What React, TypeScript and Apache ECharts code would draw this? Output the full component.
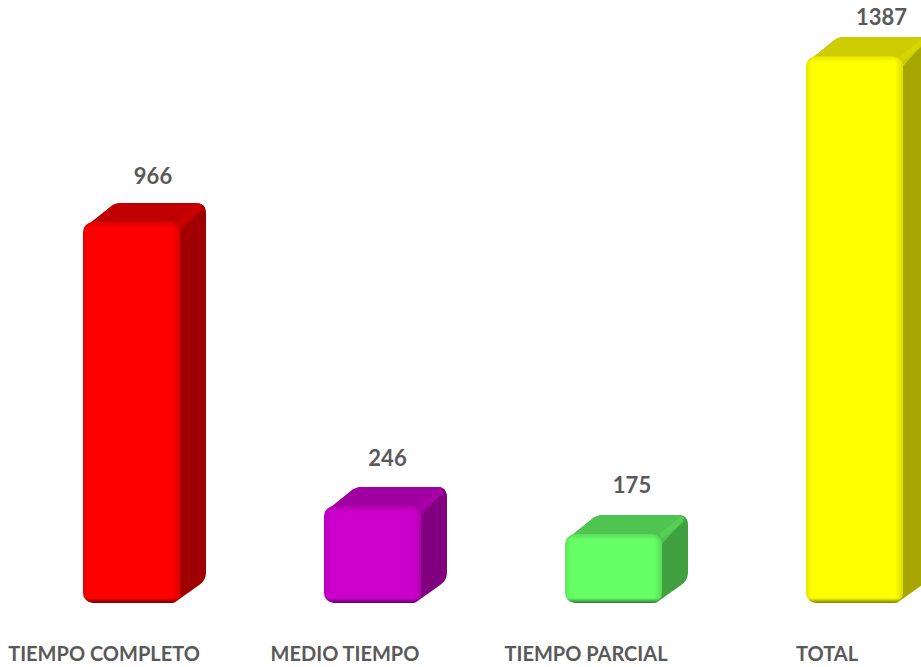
import React, { useEffect, useRef } from "react";
import * as echarts from "echarts";

const categories = ["TIEMPO COMPLETO", "MEDIO TIEMPO", "TIEMPO PARCIAL", "TOTAL"];
const values = [966, 246, 175, 1387];
const faceColors = ["#FF0000", "#CC00CC", "#66FF66", "#FFFF00"];
const topColors = ["#C00000", "#A000A0", "#50C450", "#CCCC00"];
const edgeColors = ["#DC0000", "#B400B4", "#5CDC5C", "#E2E200"];
const sideColors = ["#A00000", "#800080", "#40A040", "#A6A600"];
const shadeColors = ["#6E0000", "#660066", "#2E7A2E", "#7E7E00"];
const labelShift = [21.5, 15, 18.5, 27];
const labelLift = [47, 49, 50, 40];

const PAGE_W = 921;
const PAGE_H = 667;
const BLEED = 20;
const BAR_SHIFT = 27.5;
const BAR_W = 97;
const DEPTH_L = 32;
const DEPTH_R = 26;
const DEPTH_Y = 19;
const DEPTH_B = 23;
const RADIUS = 10;
const TEXT = "#595959";
const FONT = "Lato, 'Noto Sans', sans-serif";

type P = [number, number];

// Round the corners of a polygon by sampling a quadratic curve at each one.
function roundCorners(pts: P[], radii: number[]): P[] {
  const out: P[] = [];
  const n = pts.length;
  for (let i = 0; i < n; i++) {
    const p = pts[i];
    const r = radii[i];
    if (r === 0) {
      out.push(p);
      continue;
    }
    const a = pts[(i + n - 1) % n];
    const b = pts[(i + 1) % n];
    const la = Math.hypot(a[0] - p[0], a[1] - p[1]);
    const lb = Math.hypot(b[0] - p[0], b[1] - p[1]);
    const s: P = [p[0] + ((a[0] - p[0]) * r) / la, p[1] + ((a[1] - p[1]) * r) / la];
    const e: P = [p[0] + ((b[0] - p[0]) * r) / lb, p[1] + ((b[1] - p[1]) * r) / lb];
    for (let k = 0; k <= 6; k++) {
      const t = k / 6;
      const u = 1 - t;
      out.push([
        u * u * s[0] + 2 * u * t * p[0] + t * t * e[0],
        u * u * s[1] + 2 * u * t * p[1] + t * t * e[1],
      ]);
    }
  }
  return out;
}

const renderBar = (_params: any, api: any) => {
  const i = api.value(0);
  const [cx, yT] = api.coord([i, api.value(1)]);
  const [, yB] = api.coord([i, 0]);
  const x0 = cx + BAR_SHIFT - BAR_W / 2;
  const x1 = x0 + BAR_W;
  const h = yB - yT;

  const silhouette = roundCorners(
    [
      [x0 + 1, yT + 6],
      [x0 + DEPTH_L, yT - DEPTH_Y],
      [x1 + DEPTH_R, yT - DEPTH_Y],
      [x1 + DEPTH_R, yB - DEPTH_B],
      [x1 - 6, yB],
      [x0 + RADIUS, yB],
    ],
    [0, 6, 10, 8, 2, 0]
  );
  const top = roundCorners(
    [
      [x0 + 1, yT + 6],
      [x0 + DEPTH_L, yT - DEPTH_Y],
      [x1 + DEPTH_R, yT - DEPTH_Y],
      [x1, yT + RADIUS],
    ],
    [0, 6, 10, 0]
  );

  const vertical = new echarts.graphic.LinearGradient(0, 0, 0, 1, [
    { offset: 0, color: edgeColors[i] },
    { offset: 6 / h, color: faceColors[i] },
    { offset: (h - 5) / h, color: faceColors[i] },
    { offset: 1, color: shadeColors[i] },
  ]);
  const horizontal = new echarts.graphic.LinearGradient(0, 0, 1, 0, [
    { offset: 0, color: "rgba(0,0,0,0.10)" },
    { offset: 6 / BAR_W, color: "rgba(0,0,0,0)" },
    { offset: (BAR_W - 8) / BAR_W, color: "rgba(0,0,0,0)" },
    { offset: 1, color: "rgba(0,0,0,0.14)" },
  ]);

  return {
    type: "group",
    children: [
      { type: "polygon", shape: { points: silhouette }, style: { fill: sideColors[i] } },
      { type: "polygon", shape: { points: top }, style: { fill: topColors[i] } },
      {
        type: "line",
        shape: { x1: x1 - 1, y1: yT + 2, x2: x1 + DEPTH_R - 5, y2: yT - DEPTH_Y + 4 },
        style: { stroke: edgeColors[i], lineWidth: 6, opacity: 0.5 },
      },
      {
        type: "rect",
        shape: { x: x0, y: yT, width: BAR_W, height: h, r: RADIUS },
        style: { fill: vertical },
      },
      {
        type: "rect",
        shape: { x: x0, y: yT, width: BAR_W, height: h, r: RADIUS },
        style: { fill: horizontal },
      },
      {
        type: "text",
        x: cx + BAR_SHIFT + labelShift[i],
        y: yT - labelLift[i],
        style: {
          text: String(api.value(1)),
          fill: TEXT,
          font: `bold 22px ${FONT}`,
          textAlign: "center",
          textVerticalAlign: "middle",
        },
      },
    ],
  };
};

export default function App() {
  const ref = useRef<HTMLDivElement>(null);

  useEffect(() => {
    const chart = echarts.init(ref.current!, undefined, { renderer: "svg" });
    chart.setOption({
      animation: false,
      backgroundColor: "#FFFFFF",
      grid: { left: BLEED - 16.5, top: 51, width: 964, height: 552 },
      xAxis: {
        type: "category",
        data: categories,
        axisLine: { show: false },
        axisTick: { show: false },
        axisLabel: {
          interval: 0,
          margin: 40,
          color: TEXT,
          fontFamily: FONT,
          fontWeight: "bold",
          fontSize: 20,
        },
      },
      yAxis: { type: "value", min: 0, max: 1400, show: false },
      series: [
        {
          type: "custom",
          clip: false,
          silent: true,
          renderItem: renderBar,
          encode: { x: 0, y: 1 },
          data: values.map((v, i) => [i, v]),
        },
      ],
    });
    return () => chart.dispose();
  }, []);

  return (
    <div style={{ position: "fixed", left: 0, top: 0, width: PAGE_W, height: PAGE_H, overflow: "hidden" }}>
      <div ref={ref} style={{ position: "absolute", left: -BLEED, top: 0, width: 1000, height: PAGE_H }} />
    </div>
  );
}
